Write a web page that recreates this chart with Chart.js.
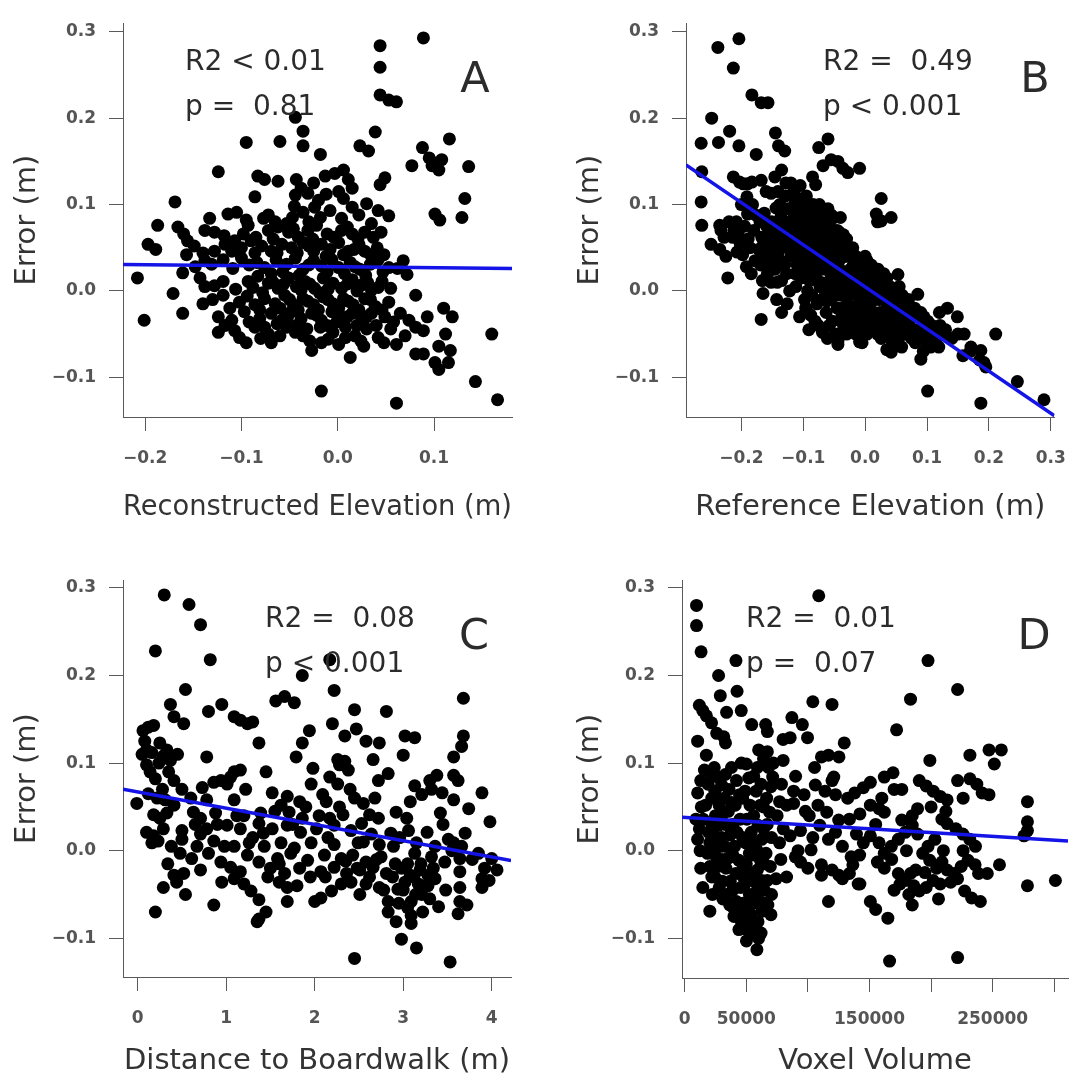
<!DOCTYPE html>
<html>
<head>
<meta charset="utf-8">
<title>Elevation error diagnostics</title>
<script src="https://cdn.jsdelivr.net/npm/chart.js@4.4.1/dist/chart.umd.min.js"></script>
<style>
  body { margin: 0; background: #fff; }
  #wrap { position: relative; width: 1083px; height: 1086px; }
  #wrap canvas { position: absolute; }
</style>
</head>
<body>
<div id="wrap">
  <canvas id="panelA" width="541" height="540" style="left:0;top:0"></canvas>
  <canvas id="panelB" width="542" height="540" style="left:541px;top:0"></canvas>
  <canvas id="panelC" width="541" height="546" style="left:0;top:540px"></canvas>
  <canvas id="panelD" width="542" height="546" style="left:541px;top:540px"></canvas>
</div>
<script>
const FONT = '"DejaVu Sans", "Liberation Sans", sans-serif';

// A: error (m) against reconstructed elevation (m)
const reconElevError = [
  [0.089, 0.293], [0.044, 0.284], [0.044, 0.259], [0.044, 0.227], [0.053, 0.221], [0.061, 0.219],
  [-0.044, 0.201], [-0.036, 0.185], [0.039, 0.184], [-0.095, 0.172], [-0.060, 0.173], [-0.036, 0.168],
  [0.116, 0.176], [0.023, 0.168], [0.032, 0.162], [-0.018, 0.158], [0.088, 0.166], [0.095, 0.154],
  [0.101, 0.148], [0.108, 0.152], [0.098, 0.145], [0.105, 0.140], [0.077, 0.145], [0.136, 0.144],
  [-0.124, 0.138], [0.132, 0.107], [0.129, 0.085], [0.101, 0.089], [0.106, 0.082], [0.049, 0.131],
  [0.044, 0.123], [-0.083, 0.133], [-0.076, 0.129], [-0.062, 0.127], [-0.086, 0.109], [-0.043, 0.129],
  [-0.025, 0.125], [-0.013, 0.133], [-0.003, 0.136], [0.006, 0.140], [0.011, 0.129], [0.015, 0.119],
  [-0.044, 0.111], [-0.031, 0.113], [-0.020, 0.105], [0.001, 0.115], [0.006, 0.107], [-0.038, 0.119],
  [-0.012, 0.112], [-0.169, 0.103], [-0.187, 0.076], [-0.133, 0.084], [-0.105, 0.091], [-0.114, 0.089],
  [-0.077, 0.084], [-0.065, 0.080], [-0.053, 0.078], [-0.036, 0.091], [-0.024, 0.097], [0.015, 0.097],
  [0.030, 0.101], [0.042, 0.093], [0.053, 0.087], [-0.018, 0.085], [-0.008, 0.093], [0.035, 0.078],
  [-0.045, 0.098],
  [-0.166, 0.074], [-0.160, 0.066], [-0.138, 0.070], [-0.128, 0.068], [-0.093, 0.076], [-0.107, 0.058],
  [-0.072, 0.070], [-0.062, 0.074], [-0.051, 0.068], [-0.041, 0.062], [-0.031, 0.070], [-0.022, 0.076],
  [-0.011, 0.066], [0.004, 0.070], [0.015, 0.066], [0.028, 0.068], [0.037, 0.062],
  [-0.197, 0.054], [-0.189, 0.048], [-0.156, 0.058], [-0.149, 0.052], [-0.128, 0.046], [-0.117, 0.054],
  [-0.110, 0.046], [-0.090, 0.058], [-0.079, 0.052], [-0.069, 0.046], [-0.058, 0.054], [-0.048, 0.050],
  [-0.036, 0.056], [-0.025, 0.046], [-0.017, 0.054], [-0.008, 0.048], [0.001, 0.056], [0.011, 0.046],
  [0.022, 0.054], [0.041, 0.050], [0.034, 0.042],
  [-0.157, 0.042], [-0.138, 0.035], [-0.131, 0.031], [-0.119, 0.036], [-0.100, 0.038], [-0.084, 0.033],
  [-0.076, 0.027], [-0.064, 0.036], [-0.053, 0.031], [-0.044, 0.038], [-0.036, 0.025], [-0.025, 0.035],
  [-0.017, 0.029], [-0.006, 0.036], [0.001, 0.027], [0.013, 0.033], [0.023, 0.025], [0.034, 0.031],
  [0.042, 0.036], [0.053, 0.027], [0.068, 0.035], [0.072, 0.019],
  [-0.208, 0.015], [-0.161, 0.021], [-0.143, 0.015], [-0.138, 0.005], [-0.119, 0.011], [-0.093, 0.011],
  [-0.083, 0.017], [-0.072, 0.009], [-0.062, 0.003], [-0.051, 0.015], [-0.043, 0.005], [-0.034, 0.011],
  [-0.024, 0.003], [-0.015, 0.015], [-0.005, 0.009], [0.004, 0.003], [0.015, 0.013], [0.025, 0.007],
  [0.035, 0.001], [0.046, 0.011], [0.055, 0.003],
  [-0.171, -0.003], [-0.140, -0.015], [-0.119, -0.005], [-0.102, -0.013], [-0.086, -0.016], [-0.076, -0.009],
  [-0.065, -0.015], [-0.055, -0.005], [-0.046, -0.016], [-0.036, -0.009], [-0.025, -0.016], [-0.015, -0.007],
  [-0.005, -0.015], [0.006, -0.009], [0.016, -0.016], [0.028, -0.009], [0.039, -0.018], [0.053, -0.013],
  [0.081, -0.005],
  [-0.201, -0.034], [-0.161, -0.026], [-0.124, -0.030], [-0.110, -0.034], [-0.097, -0.024], [-0.081, -0.032],
  [-0.069, -0.026], [-0.058, -0.034], [-0.048, -0.024], [-0.038, -0.032], [-0.027, -0.026], [-0.017, -0.034],
  [-0.006, -0.024], [0.004, -0.032], [0.015, -0.026], [0.025, -0.034], [0.035, -0.026], [0.049, -0.030],
  [0.065, -0.026], [0.074, -0.034], [0.093, -0.030], [0.110, -0.020], [0.119, -0.030],
  [-0.124, -0.048], [-0.107, -0.046], [-0.102, -0.054], [-0.086, -0.042], [-0.072, -0.050], [-0.053, -0.042],
  [-0.044, -0.048], [-0.029, -0.058], [-0.018, -0.042], [-0.005, -0.048], [0.008, -0.042], [0.018, -0.052],
  [0.030, -0.044], [0.042, -0.054], [0.055, -0.044], [0.081, -0.042], [0.089, -0.046], [0.112, -0.050],
  [0.160, -0.050],
  [-0.069, -0.060], [-0.027, -0.069], [-0.017, -0.060], [0.001, -0.062], [0.013, -0.077], [0.027, -0.064],
  [0.061, -0.062], [0.081, -0.073], [0.089, -0.073], [0.105, -0.064], [0.117, -0.069], [0.115, -0.083],
  [0.101, -0.083], [0.105, -0.091],
  [0.143, -0.105], [-0.017, -0.116], [0.061, -0.130], [0.166, -0.126],
  [-0.095, 0.082], [-0.072, 0.088], [-0.047, 0.085], [-0.030, 0.080], [0.004, 0.084], [0.022, 0.088],
  [-0.118, 0.064], [-0.098, 0.066], [-0.085, 0.062], [-0.067, 0.060], [-0.046, 0.072], [-0.026, 0.060],
  [-0.004, 0.062], [0.010, 0.074], [0.021, 0.060], [0.045, 0.068],
  [-0.140, 0.044], [-0.100, 0.050], [-0.086, 0.044], [-0.063, 0.044], [-0.042, 0.044], [-0.030, 0.052],
  [-0.012, 0.040], [0.006, 0.042], [0.017, 0.048], [0.028, 0.046], [0.048, 0.042],
  [-0.148, 0.028], [-0.109, 0.026], [-0.092, 0.030], [-0.069, 0.020], [-0.057, 0.022], [-0.040, 0.018],
  [-0.030, 0.030], [-0.011, 0.022], [0.007, 0.020], [0.018, 0.028], [0.029, 0.018], [0.047, 0.022],
  [0.062, 0.026],
  [-0.128, 0.006], [-0.106, 0.002], [-0.088, 0.004], [-0.078, -0.002], [-0.067, 0.010], [-0.056, 0.008],
  [-0.038, 0.001], [-0.029, 0.008], [-0.019, -0.002], [-0.010, 0.002], [0.010, 0.008], [0.020, 0.000],
  [0.031, 0.010], [0.042, 0.004],
  [-0.130, -0.010], [-0.112, -0.020], [-0.094, -0.006], [-0.081, -0.022], [-0.060, -0.020], [-0.050, -0.010],
  [-0.041, -0.022], [-0.031, -0.012], [-0.020, -0.022], [-0.010, -0.010], [0.001, -0.020], [0.011, -0.012],
  [0.022, -0.022], [0.034, -0.010], [0.046, -0.022],
  [-0.117, -0.040], [-0.092, -0.036], [-0.076, -0.042], [-0.063, -0.038], [-0.052, -0.030], [-0.043, -0.040],
  [-0.032, -0.044], [-0.022, -0.028], [-0.011, -0.040], [-0.001, -0.036], [0.010, -0.030], [0.020, -0.040],
  [0.030, -0.030], [0.040, -0.040], [0.058, -0.036],
  [-0.095, -0.060], [-0.080, -0.055], [-0.060, -0.052], [-0.036, -0.052], [-0.010, -0.056], [0.008, -0.054],
  [0.024, -0.058], [0.048, -0.060], [0.070, -0.052]
];

// B: error (m) against reference elevation (m)
const refElevError = [
  [-0.265, 0.171], [-0.264, 0.138], [-0.265, 0.103], [-0.264, 0.076], [-0.248, 0.200], [-0.249, 0.054],
  [-0.238, 0.282], [-0.237, 0.172], [-0.235, 0.076], [-0.233, 0.070], [-0.235, 0.048], [-0.222, 0.015],
  [-0.219, 0.185], [-0.220, 0.080], [-0.213, 0.258], [-0.213, 0.132], [-0.212, 0.070], [-0.214, 0.062],
  [-0.204, 0.292], [-0.204, 0.168], [-0.203, 0.126], [-0.205, 0.066], [-0.202, 0.055], [-0.197, 0.124],
  [-0.196, 0.058], [-0.198, 0.042], [-0.190, 0.124], [-0.191, 0.109], [-0.190, 0.089], [-0.189, 0.060],
  [-0.192, 0.028], [-0.183, 0.227], [-0.183, 0.126], [-0.184, 0.020], [-0.176, 0.158], [-0.177, 0.088],
  [-0.168, 0.218], [-0.168, 0.128], [-0.167, 0.062], [-0.169, 0.030], [-0.166, 0.012], [-0.165, -0.003],
  [-0.168, -0.033], [-0.157, 0.218], [-0.160, 0.115], [-0.159, 0.075], [-0.161, 0.040], [-0.158, 0.020],
  [-0.152, 0.113], [-0.151, 0.080], [-0.153, 0.050], [-0.150, 0.034], [-0.152, 0.010], [-0.145, 0.183],
  [-0.146, 0.132], [-0.144, 0.096], [-0.145, 0.060], [-0.146, 0.025], [-0.143, -0.010], [-0.140, 0.168],
  [-0.141, 0.115], [-0.139, 0.070], [-0.140, 0.045], [-0.135, 0.140], [-0.136, 0.086], [-0.134, 0.055],
  [-0.135, 0.012], [-0.135, -0.025], [-0.130, 0.162], [-0.129, 0.110], [-0.131, 0.068], [-0.130, 0.030],
  [-0.125, 0.095], [-0.124, 0.050], [-0.126, -0.015], [-0.120, 0.125], [-0.121, 0.080], [-0.119, 0.062],
  [-0.120, 0.040], [-0.122, 0.000], [-0.115, 0.118], [-0.114, 0.100], [-0.116, 0.072], [-0.115, 0.050],
  [-0.113, 0.020], [-0.110, 0.108], [-0.111, 0.090], [-0.109, 0.058], [-0.110, 0.030], [-0.112, 0.005],
  [-0.105, 0.122], [-0.104, 0.082], [-0.106, 0.065], [-0.105, 0.040], [-0.103, 0.015], [-0.106, -0.030],
  [-0.100, 0.098], [-0.099, 0.075], [-0.101, 0.048], [-0.100, 0.020], [-0.098, -0.010], [-0.095, 0.110],
  [-0.096, 0.088], [-0.094, 0.060], [-0.095, 0.035], [-0.093, 0.000], [-0.096, -0.020], [-0.090, 0.090],
  [-0.089, 0.070], [-0.091, 0.042], [-0.090, 0.012], [-0.088, -0.028], [-0.091, -0.045], [-0.085, 0.132],
  [-0.084, 0.100], [-0.086, 0.080], [-0.085, 0.055], [-0.083, 0.030], [-0.086, -0.005], [-0.080, 0.123],
  [-0.081, 0.088], [-0.079, 0.060], [-0.080, 0.020], [-0.078, -0.015], [-0.081, -0.035], [-0.075, 0.166],
  [-0.074, 0.100], [-0.076, 0.070], [-0.075, 0.045], [-0.073, 0.005], [-0.076, -0.040], [-0.068, 0.145],
  [-0.070, 0.080], [-0.069, 0.050], [-0.071, 0.025], [-0.070, -0.010], [-0.069, -0.048], [-0.065, 0.090],
  [-0.064, 0.060], [-0.066, 0.030], [-0.065, 0.000], [-0.063, -0.025], [-0.060, 0.176], [-0.060, 0.095],
  [-0.059, 0.070], [-0.061, 0.040], [-0.060, 0.010], [-0.058, -0.040], [-0.061, -0.055], [-0.055, 0.152],
  [-0.055, 0.088], [-0.054, 0.055], [-0.056, 0.020], [-0.055, -0.010], [-0.053, -0.035], [-0.050, 0.085],
  [-0.049, 0.060], [-0.051, 0.030], [-0.050, 0.000], [-0.048, -0.050], [-0.044, 0.150], [-0.045, 0.070],
  [-0.046, 0.045], [-0.044, 0.015], [-0.045, -0.020], [-0.044, -0.058], [-0.040, 0.085], [-0.039, 0.055],
  [-0.041, 0.025], [-0.040, -0.005], [-0.038, -0.030], [-0.036, 0.142], [-0.035, 0.065], [-0.034, 0.040],
  [-0.036, 0.010], [-0.035, -0.040], [-0.028, 0.137], [-0.030, 0.060], [-0.031, 0.020], [-0.029, -0.015],
  [-0.030, -0.050], [-0.025, 0.045], [-0.024, 0.025], [-0.026, -0.005], [-0.025, -0.030], [-0.020, 0.050],
  [-0.019, 0.030], [-0.021, 0.000], [-0.020, -0.040], [-0.015, 0.040], [-0.014, 0.010], [-0.016, -0.020],
  [-0.015, -0.050], [-0.009, 0.142], [-0.010, 0.035], [-0.011, 0.015], [-0.009, -0.010], [-0.010, -0.035],
  [-0.005, 0.030], [-0.004, 0.000], [-0.006, -0.025], [-0.005, -0.060], [0.000, 0.040], [0.001, 0.020],
  [-0.001, -0.005], [0.000, -0.040], [0.005, 0.025], [0.006, 0.005], [0.004, -0.030], [0.010, 0.030],
  [0.011, 0.010], [0.009, -0.015], [0.010, -0.045], [0.018, 0.089], [0.015, 0.018], [0.014, -0.005],
  [0.016, -0.035], [0.026, 0.107], [0.020, 0.080], [0.021, 0.025], [0.019, 0.000], [0.020, -0.050],
  [0.026, 0.081], [0.025, 0.010], [0.024, -0.025], [0.026, -0.055], [0.030, 0.020], [0.031, -0.010],
  [0.029, -0.040], [0.035, 0.015], [0.036, -0.020], [0.034, -0.050], [0.035, -0.068], [0.042, 0.085],
  [0.040, 0.005], [0.041, -0.030], [0.042, -0.071], [0.045, -0.005], [0.046, -0.045], [0.044, -0.060],
  [0.053, 0.019], [0.050, -0.015], [0.051, -0.035], [0.055, 0.005], [0.056, -0.025], [0.054, -0.055],
  [0.060, -0.005], [0.061, -0.040], [0.059, -0.065], [0.065, -0.015], [0.066, -0.030], [0.064, -0.050],
  [0.070, -0.010], [0.071, -0.040], [0.080, -0.020], [0.079, -0.045], [0.081, -0.060], [0.085, -0.004],
  [0.084, -0.030], [0.090, -0.025], [0.091, -0.050], [0.090, -0.079], [0.095, -0.030], [0.096, -0.040],
  [0.094, -0.070], [0.101, -0.035], [0.100, -0.060], [0.101, -0.116], [0.105, -0.045], [0.106, -0.065],
  [0.110, -0.050], [0.111, -0.060], [0.120, -0.025], [0.121, -0.040], [0.119, -0.065], [0.133, -0.020],
  [0.130, -0.045], [0.149, -0.030], [0.140, -0.055], [0.150, -0.050], [0.158, -0.075], [0.160, -0.050],
  [0.171, -0.065], [0.170, -0.070], [0.187, -0.069], [0.185, -0.080], [0.192, -0.083], [0.187, -0.130],
  [0.195, -0.088], [0.211, -0.050], [0.246, -0.105], [0.289, -0.126], [-0.009, -0.059], [-0.044, -0.062],
  [-0.228, 0.062], [-0.225, 0.040], [-0.208, 0.080], [-0.200, 0.100], [-0.207, 0.045], [-0.195, 0.075],
  [-0.186, 0.050], [-0.180, 0.070], [-0.182, 0.100], [-0.178, 0.035], [-0.172, 0.048], [-0.170, 0.080],
  [-0.163, 0.090], [-0.164, 0.055], [-0.156, 0.065], [-0.155, 0.025], [-0.148, 0.045], [-0.148, 0.075],
  [-0.142, 0.010], [-0.138, 0.100], [-0.137, 0.035], [-0.132, 0.080], [-0.128, 0.125], [-0.127, 0.020],
  [-0.118, 0.110], [-0.117, 0.092], [-0.112, 0.078], [-0.108, 0.045], [-0.107, 0.100], [-0.102, 0.088],
  [-0.098, 0.060], [-0.097, 0.030], [-0.093, 0.080], [-0.092, 0.050], [-0.087, 0.065], [-0.087, 0.020],
  [-0.083, 0.075], [-0.082, 0.040], [-0.078, 0.095], [-0.077, 0.030], [-0.072, 0.060], [-0.072, 0.010],
  [-0.067, 0.075], [-0.067, 0.040], [-0.062, 0.050], [-0.062, -0.012], [-0.057, 0.075], [-0.057, 0.035],
  [-0.052, 0.045], [-0.052, 0.010], [-0.047, 0.055], [-0.047, -0.005], [-0.042, 0.035], [-0.042, 0.068],
  [-0.037, 0.050], [-0.037, -0.020], [-0.032, 0.040], [-0.032, 0.005], [-0.027, 0.012], [-0.027, -0.042],
  [-0.022, 0.040], [-0.022, -0.018], [-0.017, 0.022], [-0.017, -0.030], [-0.012, 0.000], [-0.012, -0.045],
  [-0.007, 0.015], [-0.007, -0.040], [-0.002, 0.010], [-0.002, -0.020], [0.003, 0.035], [0.003, -0.050],
  [0.008, -0.005], [0.008, -0.030], [0.013, 0.000], [0.013, -0.025], [0.018, 0.010], [0.018, -0.045],
  [0.023, -0.010], [0.023, -0.040], [0.028, 0.000], [0.028, -0.028], [0.033, -0.005], [0.033, -0.035],
  [0.038, -0.015], [0.038, -0.045], [0.043, -0.020], [0.048, -0.030], [0.048, -0.055], [0.053, -0.045],
  [0.058, -0.020], [0.063, -0.040], [0.068, -0.025], [0.075, -0.030], [0.075, -0.055], [0.086, -0.045],
  [0.098, -0.055], [0.108, -0.040], [0.115, -0.055], [0.125, -0.050]
];

// C: error (m) against distance to boardwalk (m)
const distanceError = [
  [0.30, 0.292], [0.58, 0.281], [0.71, 0.258], [0.20, 0.228], [0.82, 0.218], [2.17, 0.218],
  [1.86, 0.200], [0.54, 0.184], [2.22, 0.183], [3.68, 0.174], [1.56, 0.171], [1.66, 0.176],
  [1.77, 0.169], [0.37, 0.167], [0.95, 0.167], [0.80, 0.159], [2.45, 0.161], [2.81, 0.159],
  [0.41, 0.153], [0.52, 0.145], [1.09, 0.153], [1.16, 0.149], [1.24, 0.145], [1.30, 0.147],
  [1.94, 0.137], [2.20, 0.145], [2.47, 0.139], [0.06, 0.137], [0.12, 0.141], [0.18, 0.143],
  [2.34, 0.131], [3.02, 0.131], [3.13, 0.129], [3.68, 0.131], [2.58, 0.125], [2.73, 0.123],
  [1.86, 0.123], [1.37, 0.123], [0.25, 0.123], [0.33, 0.115], [0.10, 0.115], [3.66, 0.119],
  [0.16, 0.112], [0.29, 0.108], [0.37, 0.103], [3.00, 0.109], [2.66, 0.104], [1.79, 0.107],
  [2.26, 0.104], [2.34, 0.102], [0.78, 0.107], [3.57, 0.107], [0.10, 0.098], [1.45, 0.090],
  [1.98, 0.094], [1.09, 0.090], [1.16, 0.092], [1.05, 0.084], [3.38, 0.086], [3.30, 0.080],
  [2.28, 0.098], [2.38, 0.092], [2.83, 0.088], [3.57, 0.086], [2.72, 0.080], [0.20, 0.082],
  [0.41, 0.080], [0.86, 0.078], [0.94, 0.080], [1.01, 0.076], [1.96, 0.076], [2.17, 0.084],
  [2.26, 0.076], [3.13, 0.074], [3.89, 0.066], [3.62, 0.080], [0.50, 0.070], [0.73, 0.072],
  [1.52, 0.066], [1.69, 0.062], [3.21, 0.064], [3.32, 0.070], [2.45, 0.060], [2.09, 0.064],
  [3.44, 0.066], [-0.01, 0.054], [0.31, 0.058], [0.41, 0.052], [0.78, 0.058], [1.09, 0.058],
  [1.62, 0.052], [1.83, 0.056], [2.13, 0.056], [2.55, 0.054], [3.08, 0.056], [3.57, 0.058],
  [3.74, 0.048], [2.92, 0.044], [0.18, 0.041], [0.25, 0.037], [0.33, 0.043], [0.63, 0.044],
  [0.88, 0.043], [0.71, 0.037], [1.20, 0.040], [1.39, 0.043], [1.71, 0.044], [1.86, 0.037],
  [2.17, 0.037], [2.32, 0.041], [2.62, 0.041], [2.72, 0.037], [3.04, 0.037], [3.42, 0.043],
  [3.98, 0.033], [0.10, 0.021], [0.18, 0.017], [0.29, 0.025], [0.50, 0.023], [0.71, 0.019],
  [0.78, 0.025], [1.01, 0.029], [1.16, 0.025], [1.37, 0.031], [1.52, 0.025], [1.69, 0.029],
  [1.84, 0.021], [2.02, 0.025], [2.22, 0.029], [2.41, 0.023], [2.53, 0.031], [2.64, 0.019],
  [3.06, 0.023], [3.27, 0.021], [3.51, 0.013], [0.16, 0.009], [0.23, 0.011], [0.50, 0.013],
  [0.67, 0.005], [0.86, 0.011], [1.09, 0.005], [1.26, 0.009], [1.43, 0.005], [1.62, 0.009],
  [1.77, 0.003], [1.96, 0.009], [2.22, 0.007], [2.49, 0.009], [2.73, 0.007], [2.89, 0.005],
  [3.15, 0.009], [3.36, 0.005], [3.57, 0.009], [3.66, 0.005], [3.85, -0.003], [0.48, -0.003],
  [0.61, -0.009], [0.80, -0.003], [0.94, -0.013], [1.24, -0.005], [1.37, -0.013], [1.58, -0.009],
  [1.73, -0.003], [1.92, -0.011], [2.11, -0.005], [2.30, -0.009], [2.43, -0.005], [2.58, -0.013],
  [2.75, -0.007], [2.91, -0.015], [3.13, -0.003], [3.32, -0.007], [3.47, -0.013], [3.64, -0.009],
  [4.00, -0.009], [0.71, -0.022], [1.05, -0.019], [1.16, -0.024], [1.50, -0.020], [1.66, -0.026],
  [1.83, -0.020], [2.07, -0.024], [2.22, -0.019], [2.36, -0.026], [2.51, -0.022], [2.66, -0.019],
  [2.81, -0.026], [2.98, -0.020], [3.08, -0.028], [3.19, -0.022], [3.28, -0.028], [3.64, -0.024],
  [4.06, -0.022], [3.89, -0.032], [0.52, -0.026], [0.41, -0.028], [0.44, -0.036], [0.29, -0.042],
  [0.54, -0.050], [0.20, -0.070], [0.86, -0.062], [0.95, -0.036], [1.09, -0.032], [1.20, -0.038],
  [1.28, -0.046], [1.37, -0.056], [1.45, -0.070], [1.37, -0.078], [1.35, -0.081], [1.69, -0.058],
  [1.69, -0.042], [1.60, -0.036], [2.00, -0.058], [2.07, -0.054], [2.19, -0.046], [2.30, -0.038],
  [2.41, -0.036], [2.51, -0.050], [2.58, -0.038], [2.73, -0.042], [2.83, -0.058], [2.83, -0.070],
  [2.92, -0.081], [2.98, -0.101], [3.09, -0.083], [3.09, -0.074], [3.15, -0.111], [3.09, -0.058],
  [3.21, -0.050], [3.28, -0.040], [3.17, -0.038], [3.36, -0.032], [3.40, -0.064], [3.64, -0.042],
  [3.64, -0.058], [3.62, -0.072], [3.72, -0.062], [3.89, -0.042], [3.97, -0.034], [3.02, -0.036],
  [2.94, -0.044], [2.45, -0.123], [3.53, -0.127],
  [0.22, 0.060], [0.35, 0.090], [0.45, 0.110], [0.60, 0.060], [0.65, 0.030], [0.90, 0.030],
  [0.98, 0.005], [1.12, 0.040], [1.22, 0.070], [1.30, 0.015], [1.42, 0.020], [1.47, -0.030],
  [1.55, 0.045], [1.60, -0.015], [1.75, 0.030], [1.80, -0.040], [1.90, 0.050], [1.95, -0.030],
  [2.05, 0.040], [2.12, -0.030], [2.15, 0.015], [2.28, 0.050], [2.35, -0.012], [2.40, 0.070],
  [2.48, -0.020], [2.55, 0.010], [2.62, -0.030], [2.68, 0.060], [2.70, -0.010], [2.78, -0.045],
  [2.86, 0.020], [2.88, -0.030], [2.95, -0.060], [2.96, 0.015], [3.00, -0.045], [3.05, -0.015],
  [3.05, -0.065], [3.12, -0.030], [3.14, -0.050], [3.20, -0.015], [3.22, -0.070], [3.25, -0.040],
  [3.30, -0.055], [3.34, -0.020], [3.45, 0.030], [3.48, -0.045], [3.55, 0.000], [3.70, 0.020],
  [3.78, -0.010], [3.92, -0.020], [0.08, 0.125], [0.14, 0.090], [0.24, 0.100], [0.05, 0.110],
  [0.28, 0.070], [0.12, 0.065], [0.38, 0.005], [0.34, -0.015]
];

// D: error (m) against voxel volume
const voxelError = [
  [9600, 0.280], [9600, 0.257], [13300, 0.227], [108800, 0.291], [41600, 0.217], [197500, 0.217],
  [221500, 0.184], [27500, 0.200], [42500, 0.182], [183300, 0.173], [104000, 0.170], [119600, 0.167],
  [28900, 0.177], [11900, 0.166], [14700, 0.160], [17600, 0.154], [21800, 0.146], [34000, 0.158],
  [45900, 0.160], [87000, 0.152], [95500, 0.144], [54400, 0.144], [65700, 0.144], [67100, 0.136],
  [172000, 0.138], [26000, 0.134], [31700, 0.130], [33100, 0.123], [129500, 0.123], [10500, 0.125],
  [79900, 0.127], [85600, 0.129], [99700, 0.129], [60000, 0.115], [67100, 0.113], [231500, 0.109],
  [247000, 0.115], [257000, 0.115], [251300, 0.099], [17600, 0.109], [111000, 0.107], [116700, 0.109],
  [125200, 0.107], [199000, 0.103], [105400, 0.095], [79900, 0.103],
  [169100, 0.089], [162000, 0.084], [150700, 0.078], [145000, 0.072], [138000, 0.066], [132300, 0.060],
  [176200, 0.070], [190400, 0.080], [196000, 0.074], [201700, 0.068], [207400, 0.062], [213000, 0.058],
  [221500, 0.080], [231500, 0.082], [237100, 0.076], [241400, 0.066], [247000, 0.064], [121000, 0.084],
  [122400, 0.064], [150700, 0.052], [157800, 0.048], [162000, 0.044], [142200, 0.042], [176200, 0.035],
  [184700, 0.040], [189000, 0.048], [208800, 0.036], [213000, 0.031], [220100, 0.025], [225800, 0.019],
  [231400, 0.013], [278200, 0.056], [278200, 0.033], [278200, 0.023], [275400, 0.017],
  [77000, 0.056], [82700, 0.052], [88400, 0.054], [80000, 0.025], [85600, 0.017], [89800, -0.007],
  [94000, -0.013], [74200, -0.032], [82700, -0.030], [77000, 0.009], [94000, 0.023], [101100, 0.040],
  [96900, 0.064], [88400, 0.068], [78500, 0.076], [71400, 0.084], [108200, 0.052], [113900, 0.068],
  [119600, 0.080], [115300, 0.044], [109600, 0.029], [116700, 0.013], [122400, 0.021], [128000, 0.005],
  [111000, -0.016], [111000, -0.028], [119600, -0.022], [125200, -0.028], [128000, -0.032], [116700, -0.058],
  [102600, 0.001], [135100, -0.007], [136500, -0.016], [133700, -0.026], [140800, -0.038], [133700, 0.036],
  [139400, 0.019], [145000, 0.009], [150700, 0.017], [157800, 0.009], [162000, -0.003], [167700, 0.005],
  [173400, 0.013], [179000, 0.021], [184700, 0.029], [189000, 0.019],
  [156400, -0.013], [162000, -0.020], [173400, -0.026], [179000, -0.034], [174800, -0.038], [183300, -0.026],
  [187500, -0.022], [190400, -0.046], [196000, -0.042], [201700, -0.034], [204500, -0.020], [208800, -0.013],
  [198900, -0.011], [193200, -0.003], [184700, -0.062], [181900, -0.050], [218700, -0.026], [224400, -0.018],
  [230000, -0.011], [235700, -0.016], [238500, -0.026], [227200, -0.046], [232900, -0.054], [240000, -0.058],
  [213000, -0.022], [215900, -0.036], [221500, -0.032], [207400, -0.038], [197500, 0.005], [203100, 0.013],
  [245600, -0.026], [255500, -0.016], [278200, -0.040], [300900, -0.034], [150700, -0.058], [155000, -0.067],
  [164900, -0.077], [166300, -0.126], [221500, -0.122], [142200, -0.038],
  [9100, 0.036], [11900, 0.025], [10500, 0.013], [10500, 0.066],
  [16000, 0.092], [19000, 0.076], [17000, 0.052], [15000, 0.036], [19500, 0.021], [20400, 0.009],
  [18500, -0.003], [20400, -0.018], [14700, -0.042], [20400, -0.069],
  [24000, 0.095], [27000, 0.084], [24500, 0.068], [28000, 0.052], [25000, 0.040], [27500, 0.029],
  [24000, 0.017], [28500, 0.005], [25500, -0.007], [27000, -0.018], [24500, -0.030], [28000, -0.042],
  [33000, 0.087], [36000, 0.070], [32000, 0.060], [35500, 0.045], [33000, 0.030], [37000, 0.018],
  [32500, 0.005], [36000, -0.008], [33500, -0.020], [37000, -0.035], [34000, -0.050], [36500, -0.062],
  [42000, 0.080], [44500, 0.064], [41000, 0.052], [45000, 0.036], [42500, 0.021], [40500, 0.005],
  [44000, -0.011], [41500, -0.026], [45500, -0.042], [42000, -0.058], [44000, -0.069], [46000, -0.081],
  [50000, 0.099], [52000, 0.083], [49000, 0.068], [53000, 0.052], [50500, 0.036], [54000, 0.021],
  [49500, 0.009], [52500, -0.003], [50000, -0.015], [54000, -0.026], [49000, -0.038], [52500, -0.050],
  [50000, -0.062], [54000, -0.073], [48700, -0.089], [53000, -0.081], [50100, -0.103], [58600, -0.113],
  [59000, 0.095], [62000, 0.076], [58000, 0.068], [61500, 0.052], [59500, 0.029], [62500, 0.013],
  [58500, 0.001], [61500, -0.011], [59000, -0.022], [62500, -0.034], [58500, -0.046], [61000, -0.058],
  [63000, -0.069], [59500, -0.081], [62000, -0.094],
  [68000, 0.095], [70000, 0.073], [66500, 0.060], [69000, 0.044], [67000, 0.030], [70500, 0.015],
  [66000, -0.003], [69500, -0.018], [67000, -0.034], [70500, -0.050], [67500, -0.062], [70000, -0.073],
  [22000, 0.085], [30000, 0.075], [38000, 0.095], [46000, 0.100], [56000, 0.085], [64000, 0.105],
  [22000, 0.060], [30000, 0.040], [38000, 0.055], [47000, 0.060], [56000, 0.040], [64000, 0.050],
  [22000, 0.030], [30000, 0.015], [39000, 0.030], [47000, 0.015], [56000, 0.010], [64000, 0.025],
  [22000, 0.000], [30500, -0.010], [39000, -0.005], [47500, -0.020], [56500, -0.005], [64500, -0.015],
  [22000, -0.030], [30500, -0.035], [39000, -0.045], [47500, -0.030], [56500, -0.035], [64500, -0.045],
  [22500, -0.050], [31000, -0.055], [39500, -0.065], [47500, -0.060], [56500, -0.060], [64500, -0.060],
  [40000, -0.075], [47000, -0.070], [56500, -0.085], [60000, -0.100], [55000, -0.095], [44000, -0.090],
  [13000, 0.080], [13500, 0.050], [12500, 0.000], [13000, -0.020],
  [75000, 0.040], [72000, 0.100], [90000, 0.085], [98000, 0.045], [104000, 0.015], [92000, 0.000],
  [100000, -0.020], [78000, -0.010], [106000, 0.075], [125000, 0.035], [142000, -0.005], [155000, 0.030],
  [168000, -0.010], [180000, 0.000], [186000, -0.040], [195000, -0.025], [210000, 0.000], [226000, 0.000],
  [206000, -0.055], [236000, 0.005], [170000, -0.045], [160000, 0.060], [200000, 0.050], [170000, 0.070],
  [226000, 0.060], [212000, 0.045]
];

// tick positions and the labels printed under them
const errorTicks = [-0.1, 0.0, 0.1, 0.2, 0.3];
const reconElevTicks = [-0.2, -0.1, 0.0, 0.1];
const refElevTicks = [-0.2, -0.1, 0.0, 0.1, 0.2, 0.3];
const distanceTicks = [0, 1, 2, 3, 4];
const voxelTicks = [0, 50000, 100000, 150000, 200000, 250000, 300000];
const voxelTickLabels = [0, 50000, 150000, 250000];

// least-squares fits, [intercept, slope]
const fitA = [0.0280, -0.0117];
const fitB = [0.0047, -0.488];
const fitC = [0.0671, -0.01856];
const fitD = [0.0381, -8.7e-8];

const statsA = ['R2 < 0.01', 'p =  0.81'];
const statsB = ['R2 =  0.49', 'p < 0.001'];
const statsC = ['R2 =  0.08', 'p < 0.001'];
const statsD = ['R2 =  0.01', 'p =  0.07'];

const oneDecimal = v => v.toFixed(1).replace('-', '\u2212');

const panels = [
  { id: 'panelA', points: reconElevError, fit: fitA, stats: statsA, letter: 'A',
    xTitle: 'Reconstructed Elevation (m)', xTicks: reconElevTicks, xFormat: oneDecimal,
    xMin: -0.223, xMax: 0.181, yMin: -0.146, yMax: 0.310,
    area: { left: 123, top: 16, right: 512, bottom: 417 },
    yTitleX: 27, xTitleY: 507, textX: 185, letterX: 475 },
  { id: 'panelB', points: refElevError, fit: fitB, stats: statsB, letter: 'B',
    xTitle: 'Reference Elevation (m)', xTicks: refElevTicks, xFormat: oneDecimal,
    xMin: -0.2895, xMax: 0.3058, yMin: -0.146, yMax: 0.310,
    area: { left: 145, top: 16, right: 526, bottom: 417 },
    yTitleX: 49, xTitleY: 507, textX: 282, letterX: 494 },
  { id: 'panelC', points: distanceError, fit: fitC, stats: statsC, letter: 'C',
    xTitle: 'Distance to Boardwalk (m)', xTicks: distanceTicks, xFormat: v => String(v),
    xMin: -0.166, xMax: 4.218, yMin: -0.1442, yMax: 0.309,
    area: { left: 123, top: 40, right: 511, bottom: 437 },
    yTitleX: 27, xTitleY: 521, textX: 265, letterX: 474 },
  { id: 'panelD', points: voxelError, fit: fitD, stats: statsD, letter: 'D',
    xTitle: 'Voxel Volume', xTicks: voxelTicks,
    xFormat: v => (voxelTickLabels.includes(v) ? String(v) : ''),
    xMin: -2190, xMax: 311120, yMin: -0.1453, yMax: 0.309,
    area: { left: 141, top: 40, right: 527, bottom: 438 },
    yTitleX: 49, xTitleY: 521, textX: 205, letterX: 493 }
];

// R2 / p-value block and the panel letter
const panelText = {
  id: 'panelText',
  afterDatasetsDraw(chart, args, opts) {
    const { ctx, chartArea } = chart;
    ctx.save();
    ctx.fillStyle = '#2b2b2b';
    ctx.textBaseline = 'alphabetic';
    ctx.textAlign = 'left';
    ctx.font = '28px ' + FONT;
    opts.lines.forEach((t, i) => ctx.fillText(t, opts.x, chartArea.top + 47 + i * 45));
    ctx.textAlign = 'center';
    ctx.font = '43px ' + FONT;
    ctx.fillText(opts.letter, opts.letterX, chartArea.top + 69);
    ctx.restore();
  }
};

const axisColor = '#5a5a5a';
const tickFont = { family: FONT, size: 17, weight: 'bold' };
const titleFont = { family: FONT, size: 29 };

function makePanel(p) {
  const canvas = document.getElementById(p.id);
  const W = canvas.width;
  const H = canvas.height;
  const a = p.area;
  const fitLine = [p.xMin, p.xMax].map(x => ({ x, y: p.fit[0] + p.fit[1] * x }));
  const half = titleFont.size * 0.6;

  return new Chart(canvas, {
    type: 'scatter',
    data: {
      datasets: [
        { data: fitLine, showLine: true, borderColor: '#1414e6', borderWidth: 3.5,
          pointRadius: 0, order: 0 },
        { data: p.points.map(([x, y]) => ({ x, y })), backgroundColor: '#000',
          borderWidth: 0, pointRadius: 6.5, order: 1 }
      ]
    },
    options: {
      responsive: false,
      animation: false,
      events: [],
      layout: { padding: { left: 0, top: a.top, right: W - a.right, bottom: 0 } },
      plugins: {
        legend: { display: false },
        tooltip: { enabled: false },
        panelText: { lines: p.stats, x: p.textX, letter: p.letter, letterX: p.letterX }
      },
      scales: {
        x: {
          type: 'linear',
          min: p.xMin,
          max: p.xMax,
          afterBuildTicks: s => { s.ticks = p.xTicks.map(v => ({ value: v })); },
          afterFit: s => { s.height = H - a.bottom; },
          grid: { drawOnChartArea: false, tickLength: 14, color: axisColor, lineWidth: 1 },
          border: { color: axisColor, width: 1 },
          ticks: { autoSkip: false, maxRotation: 0, padding: 17, color: '#555',
                   font: tickFont, callback: v => p.xFormat(v) },
          title: { display: true, text: p.xTitle, color: '#333', font: titleFont,
                   padding: { top: 0, bottom: H - p.xTitleY - half } }
        },
        y: {
          type: 'linear',
          min: p.yMin,
          max: p.yMax,
          afterBuildTicks: s => { s.ticks = errorTicks.map(v => ({ value: v })); },
          afterFit: s => { s.width = a.left; },
          grid: { drawOnChartArea: false, tickLength: 14, color: axisColor, lineWidth: 1 },
          border: { color: axisColor, width: 1 },
          ticks: { autoSkip: false, padding: 13, color: '#555', font: tickFont,
                   callback: v => oneDecimal(v) },
          title: { display: true, text: 'Error (m)', color: '#333', font: titleFont,
                   padding: { top: p.yTitleX - half, bottom: 0 } }
        }
      }
    },
    plugins: [panelText]
  });
}

panels.forEach(makePanel);
</script>
</body>
</html>
